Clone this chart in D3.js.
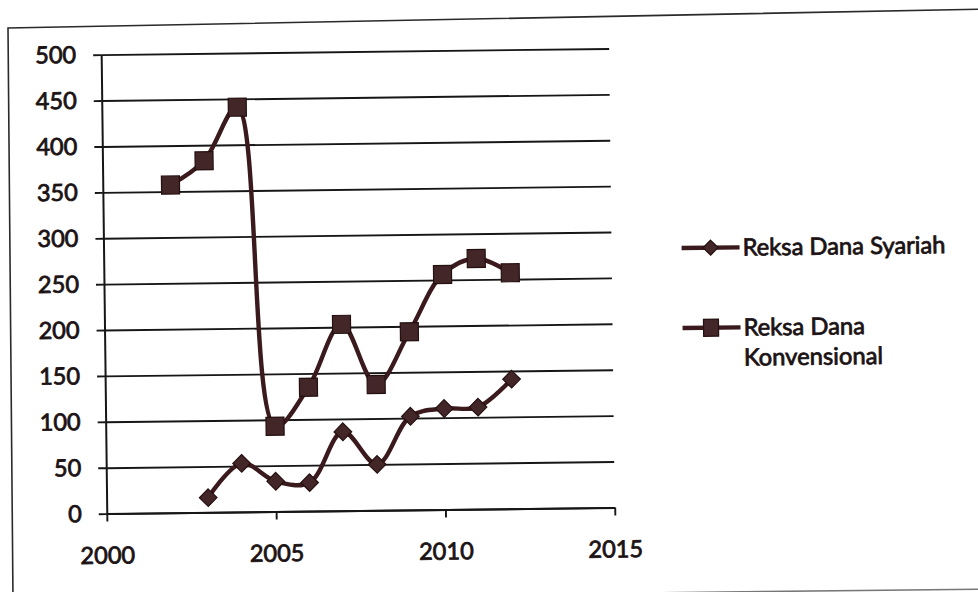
<!DOCTYPE html>
<html>
<head>
<meta charset="utf-8">
<script src="https://cdn.jsdelivr.net/npm/d3@7"></script>
<style>
  html, body { margin: 0; padding: 0; background: #fff; }
  svg { display: block; }
</style>
</head>
<body>
<svg id="chart" width="978" height="592"></svg>
<script>
// ---- data ----
const xTicks = [2000, 2005, 2010, 2015];
const yTicks = [0, 50, 100, 150, 200, 250, 300, 350, 400, 450, 500];

const syariahYears = [2003, 2004, 2005, 2006, 2007, 2008, 2009, 2010, 2011, 2012];
const syariahValues = [16, 53, 33, 31, 86, 50, 102, 110, 111, 141];

const konvensionalYears = [2002, 2003, 2004, 2005, 2006, 2007, 2008, 2009, 2010, 2011, 2012];
const konvensionalValues = [357, 383, 441, 93, 135, 203, 137, 194, 256, 273, 257];

const seriesNames = ["Reksa Dana Syariah", "Reksa Dana Konvensional"];
const legendLines = [["Reksa Dana Syariah"], ["Reksa Dana", "Konvensional"]];

// ---- drawing ----
const svg = d3.select("#chart");
const FONT = "Lato, 'Open Sans', 'DejaVu Sans', sans-serif";
const INK = "#1b1214";
const LINE = "#3a1a1d";
const MFILL = "#432628";
const MSTROKE = "#24100f";

svg.append("rect").attr("width", 978).attr("height", 592).attr("fill", "#fff");

// text-size fitting helper
function fitSize(str, targetW) {
  const t = svg.append("text").attr("font-family", FONT).attr("font-size", 100).text(str);
  const w = t.node().getComputedTextLength();
  t.remove();
  return 100 * targetW / w;
}
const tickFs = Math.min(26, Math.max(18, fitSize("500", 41)));
const legendFs = Math.min(26, Math.max(18, fitSize("Reksa Dana Syariah", 203)));

// outer frame (scanned, slightly skewed)
svg.append("path")
  .attr("d", "M13,600 L8,28 L990,9")
  .attr("fill", "none").attr("stroke", "#2a2a2a").attr("stroke-width", 1.6);
svg.append("path")
  .attr("d", "M200,598 L990,589")
  .attr("fill", "none").attr("stroke", "#777").attr("stroke-width", 1.5);

const g = svg.append("g").attr("transform", "rotate(-0.7,360,285)");

const x = d3.scaleLinear().domain([2000, 2015]).range([104, 612]);
const y = d3.scaleLinear().domain([0, 500]).range([510.5, 51.5]);

// gridlines
g.append("g")
  .attr("transform", `translate(${x(2000)},0)`)
  .call(d3.axisLeft(y).tickValues(yTicks).tickSize(-(x(2015) - x(2000))).tickFormat(""))
  .call(s => s.select(".domain").remove())
  .call(s => s.selectAll("line").attr("stroke", "#161616").attr("stroke-width", 1.9));

// y axis
const yAxis = g.append("g")
  .attr("transform", `translate(${x(2000)},0)`)
  .call(d3.axisLeft(y).tickValues(yTicks).tickSize(8).tickSizeOuter(0).tickPadding(17));
yAxis.select(".domain").attr("stroke", "#161616").attr("stroke-width", 2);
yAxis.selectAll("line").attr("stroke", "#161616").attr("stroke-width", 1.9);
yAxis.selectAll("text")
  .attr("font-family", FONT).attr("font-size", tickFs).attr("fill", INK)
  .attr("stroke", INK).attr("stroke-width", 0.8);

// x axis
const xAxis = g.append("g")
  .attr("transform", `translate(0,${y(0)})`)
  .call(d3.axisBottom(x).tickValues(xTicks).tickSize(8).tickSizeOuter(0).tickFormat(d3.format("d")));
xAxis.select(".domain").attr("stroke", "#161616").attr("stroke-width", 2);
xAxis.selectAll("line").attr("stroke", "#161616").attr("stroke-width", 1.9);
xAxis.selectAll("text")
  .attr("y", 50).attr("dy", 0)
  .attr("font-family", FONT).attr("font-size", tickFs).attr("fill", INK)
  .attr("stroke", INK).attr("stroke-width", 0.8);

// series
const syariah = syariahYears.map((yr, i) => ({ x: yr, y: syariahValues[i] }));
const konv = konvensionalYears.map((yr, i) => ({ x: yr, y: konvensionalValues[i] }));

const line = d3.line().x(d => x(d.x)).y(d => y(d.y)).curve(d3.curveCatmullRom.alpha(0.5));

g.append("path").datum(konv).attr("d", line)
  .attr("fill", "none").attr("stroke", LINE).attr("stroke-width", 4.4)
  .attr("stroke-linejoin", "round");
g.append("path").datum(syariah).attr("d", line)
  .attr("fill", "none").attr("stroke", LINE).attr("stroke-width", 4.4)
  .attr("stroke-linejoin", "round");

const SQ = 18, DI = 8.8;
const diamondPath = `M0,${-DI} L${DI},0 L0,${DI} L${-DI},0 Z`;

g.append("g").selectAll("rect").data(konv).join("rect")
  .attr("x", d => x(d.x) - SQ / 2).attr("y", d => y(d.y) - SQ / 2)
  .attr("width", SQ).attr("height", SQ)
  .attr("fill", MFILL).attr("stroke", MSTROKE).attr("stroke-width", 1.2);

g.append("g").selectAll("path").data(syariah).join("path")
  .attr("transform", d => `translate(${x(d.x)},${y(d.y)})`)
  .attr("d", diamondPath)
  .attr("fill", MFILL).attr("stroke", MSTROKE).attr("stroke-width", 1.2);

// legend
const legend = g.append("g");
const legendY = [252, 332];
legendY.forEach((ly, i) => {
  legend.append("line")
    .attr("x1", 682).attr("x2", 740).attr("y1", ly).attr("y2", ly)
    .attr("stroke", LINE).attr("stroke-width", 4.4);
  if (i === 0) {
    legend.append("path").attr("transform", `translate(711,${ly})`)
      .attr("d", `M0,-7.5 L7.5,0 L0,7.5 L-7.5,0 Z`)
      .attr("fill", MFILL).attr("stroke", MSTROKE).attr("stroke-width", 1.2);
  } else {
    legend.append("rect").attr("x", 703).attr("y", ly - 8.5).attr("width", 15).attr("height", 17)
      .attr("fill", MFILL).attr("stroke", MSTROKE).attr("stroke-width", 1.2);
  }
  const t = legend.append("text")
    .attr("x", 743).attr("y", ly)
    .attr("font-family", FONT).attr("font-size", legendFs).attr("fill", INK)
    .attr("stroke", INK).attr("stroke-width", 0.8);
  legendLines[i].forEach((s, k) => {
    t.append("tspan").attr("x", 743).attr("dy", k === 0 ? "0.35em" : 30).text(s);
  });
});
</script>
</body>
</html>
